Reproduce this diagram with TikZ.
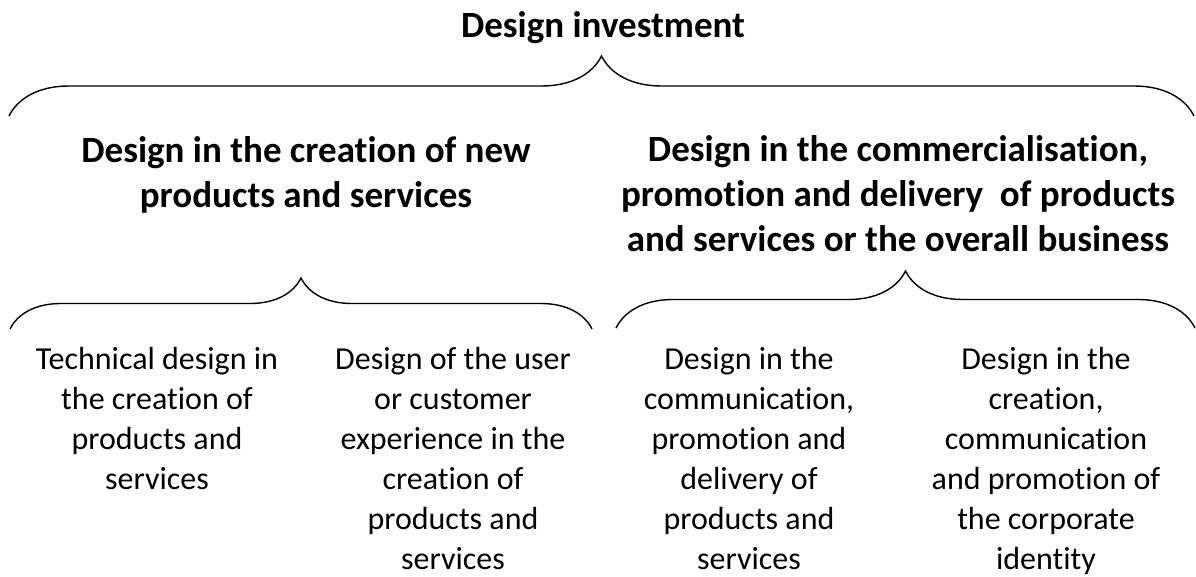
\documentclass[tikz,border=0pt]{standalone}
\usepackage{fontspec}
\setmainfont{Carlito}[Ligatures=NoCommon]
\usetikzlibrary{decorations.pathreplacing}

\begin{document}
\begin{tikzpicture}
[braceDecorate/.style={-,line width=1.4pt,decorate,decoration={brace,amplitude=#1}},%
  headDecorate/.style={font=\bfseries\fontsize{37}{45}\selectfont,align=center,inner sep=0pt,anchor=base},
  textDecorate/.style={font=\fontsize{32}{40}\selectfont,align=center,inner sep=0pt,anchor=base},
  x=1pt,y=-1pt]
\useasboundingbox (0,0) rectangle (1196,577);
%% headings (placed at the baseline of their last line)
\node (invest) at (603,38) [headDecorate] {Design investment};
\node (creation) at (306,208) [headDecorate] {Design in the creation of new\\products and services};
\node (commerce) at (898,252) [headDecorate] {Design in the commercialisation,\\promotion and delivery\ \ of products\\and services or the overall business};
%% lower columns
\foreach \nodename/\x/\y/\txt in {
  technical/157/489/{Technical design in\\the creation of\\products and\\services},
  experience/453/569/{Design of the user\\or customer\\experience in the\\creation of\\products and\\services},
  delivery/749/569/{Design in the\\communication,\\promotion and\\delivery of\\products and\\services},
  identity/1046/569/{Design in the\\creation,\\communication\\and promotion of\\the corporate\\identity}}
{
  \node (\nodename) at (\x,\y) [textDecorate] {\txt};
}
%% brace ends
\foreach \nodename/\x/\y in {
  investL/9/116, investR/1194/116,
  creationL/10/329, creationR/592/329,
  commerceL/616/328, commerceR/1195/328}
{
  \coordinate (\nodename) at (\x,\y);
}
%% braces
\path
\foreach \startnode/\endnode/\amp in {
  investL/investR/60pt, creationL/creationR/51pt, commerceL/commerceR/57pt}
{
  (\startnode) edge[braceDecorate=\amp] (\endnode)
};
\end{tikzpicture}
\end{document}
